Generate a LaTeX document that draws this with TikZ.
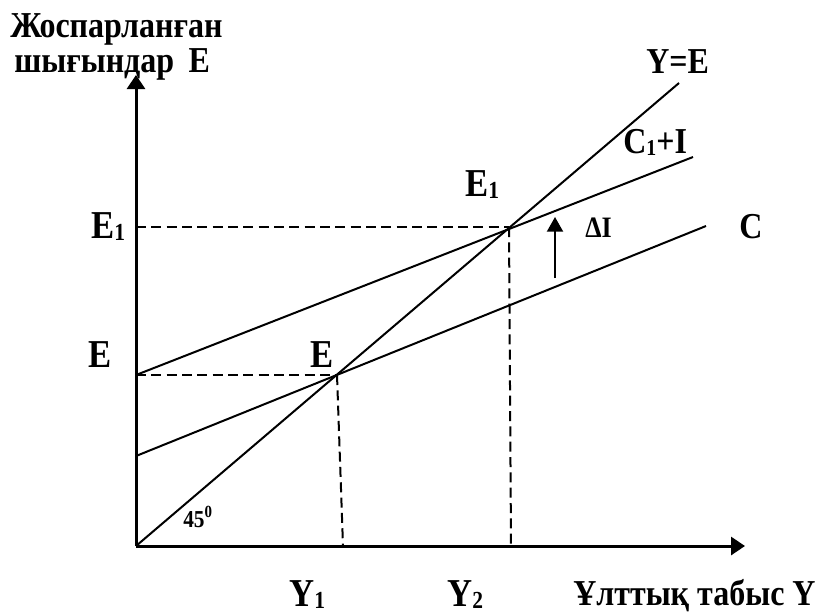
\documentclass[tikz,border=0pt]{standalone}
\usepackage{fontspec}
\usepackage{graphicx}
\setmainfont{Liberation Serif}
\usetikzlibrary{arrows.meta}
\newcommand\mysub[1]{\raisebox{-0.06em}{\scalebox{0.62}{#1}}}
\newcommand\tall[1]{\scalebox{1}[1.14]{#1}}
\tikzset{
  lbl/.style={anchor=base west, inner sep=0pt, font=\bfseries},
  biglbl/.style={lbl, font=\fontsize{26pt}{30pt}\selectfont\bfseries},
  midlbl/.style={lbl, font=\fontsize{24pt}{27pt}\selectfont\bfseries},
  smllbl/.style={lbl, font=\fontsize{19.5pt}{22pt}\selectfont\bfseries},
  tinylbl/.style={lbl, font=\fontsize{16pt}{18pt}\selectfont\bfseries},
  axisline/.style={line width=2.25pt, -{Triangle[length=10.5pt,width=13.5pt]}},
  curveline/.style={line width=1.5pt},
  guideline/.style={line width=1.5pt, dash pattern=on 7.5pt off 4pt},
  shiftarrow/.style={line width=1.5pt, -{Triangle[length=11pt,width=12pt]}}
}
\begin{document}
\begin{tikzpicture}[x=0.75pt,y=-0.75pt]
\useasboundingbox (0,0) rectangle (816,615);
% points
\coordinate (O) at (136,546);
\coordinate (ytip) at (136,75);
\coordinate (xtip) at (745,546);
\coordinate (ye) at (679,83);
\coordinate (c0) at (136,456);
\coordinate (c1) at (706,226);
\coordinate (ci0) at (136,375);
\coordinate (ci1) at (693,157);
\coordinate (Ept) at (337,375);
\coordinate (E1pt) at (509,227);
\coordinate (Ey) at (136,375);
\coordinate (E1y) at (136,227);
\coordinate (Y1x) at (343,546);
\coordinate (Y2x) at (511,546);
\coordinate (dI0) at (555,278);
\coordinate (dI1) at (555,217);
% axes
\draw[axisline] (O) -- (ytip);
\draw[axisline] (O) -- (xtip);
% lines
\draw[curveline] (O) -- (ye);
\draw[curveline] (c0) -- (c1);
\draw[curveline] (ci0) -- (ci1);
% guides
\draw[guideline] (Ey) -- (Ept);
\draw[guideline] (Ept) -- (Y1x);
\draw[guideline] (E1y) -- (E1pt);
\draw[guideline] (E1pt) -- (Y2x);
% shift arrow
\draw[shiftarrow] (dI0) -- (dI1);
% labels
\node[midlbl] (t1) at (10,37) {\tall{Жоспарланған}};
\node[midlbl] (t2) at (14,72) {\tall{шығындар\hspace{0.45em}E}};
\node[midlbl] (lYE) at (646,73) {\tall{Y=E}};
\node[midlbl] (lCI) at (623,153) {\tall{C\mysub{1}+I}};
\node[biglbl] (lE1p) at (465,196) {\tall{E\mysub{1}}};
\node[smllbl] (ldI) at (585,237) {\tall{ΔI}};
\node[midlbl] (lC) at (739,238) {\tall{C}};
\node[biglbl] (lE1) at (91,238) {\tall{E\mysub{1}}};
\node[biglbl] (lE) at (88,367) {\tall{E}};
\node[biglbl] (lEp) at (310,367) {\tall{E}};
\node[tinylbl] (l45) at (183,527) {\tall{45\textsuperscript{0}}};
\node[biglbl] (lY1) at (289,606) {\tall{Y\mysub{1}}};
\node[biglbl] (lY2) at (447,606) {\tall{Y\mysub{2}}};
\node[midlbl] (lX) at (573,605) {\tall{Ұлттық табыс Y}};
\end{tikzpicture}
\end{document}
